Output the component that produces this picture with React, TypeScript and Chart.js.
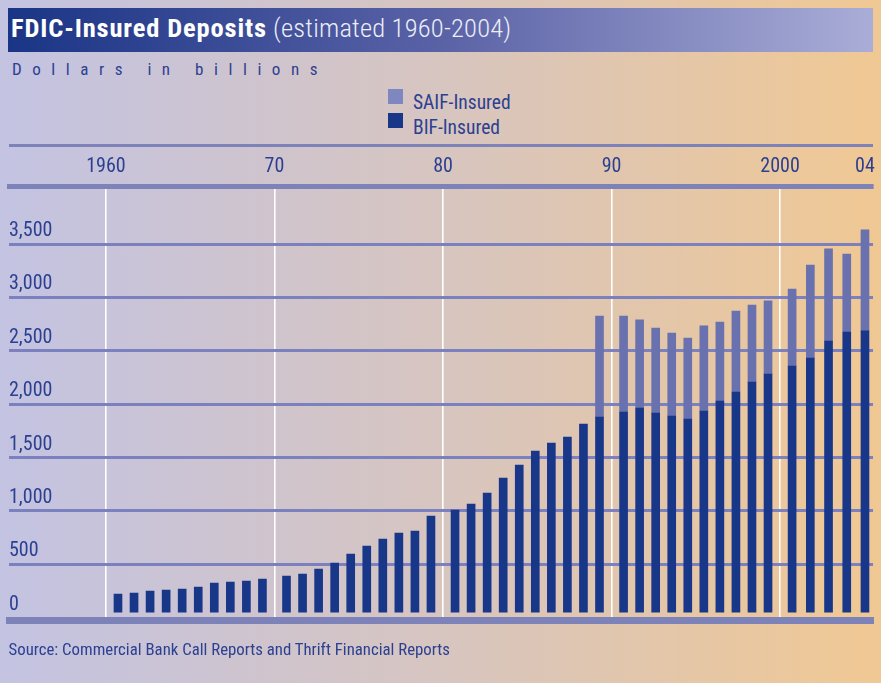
import React, { useEffect, useRef } from "react";
import { Chart, registerables } from "chart.js";

Chart.register(...registerables);

// ---------------- data ----------------
const years = [
  1960, 1961, 1962, 1963, 1964, 1965, 1966, 1967, 1968, 1969,
  1970, 1971, 1972, 1973, 1974, 1975, 1976, 1977, 1978, 1979,
  1980, 1981, 1982, 1983, 1984, 1985, 1986, 1987, 1988, 1989,
  1990, 1991, 1992, 1993, 1994, 1995, 1996, 1997, 1998, 1999,
  2000, 2001, 2002, 2003, 2004,
];

const bifInsured = [
  222, 231, 250, 259, 269, 288, 325, 334, 344, 362,
  390, 409, 456, 512, 597, 672, 737, 793, 812, 953,
  1009, 1065, 1168, 1309, 1430, 1561, 1636, 1692, 1814, 1880,
  1927, 1964, 1917, 1889, 1861, 1936, 2030, 2114, 2208, 2283,
  2358, 2433, 2592, 2676, 2686,
];

const saifInsured = [
  null, null, null, null, null, null, null, null, null, null,
  null, null, null, null, null, null, null, null, null, null,
  null, null, null, null, null, null, null, null, null, 946,
  899, 825, 797, 778, 759, 797, 740, 759, 721, 684,
  721, 871, 862, 731, 946,
];

const seriesNames = ["SAIF-Insured", "BIF-Insured"];
const xTickYears = [1960, 1970, 1980, 1990, 2000, 2004];
const xTickLabels = ["1960", "70", "80", "90", "2000", "04"];
const yTickValues = [0, 500, 1000, 1500, 2000, 2500, 3000, 3500];
const yTickLabels = ["0", "500", "1,000", "1,500", "2,000", "2,500", "3,000", "3,500"];

const titleMain = "FDIC-Insured Deposits";
const titleSub = "(estimated 1960-2004)";
const unitLabel = "Dollars in billions";
const sourceNote = "Source: Commercial Bank Call Reports and Thrift Financial Reports";

// ---------------- layout / style ----------------
const FONT = '"Roboto Condensed", "DejaVu Sans Condensed", sans-serif';
const TEXT = "#2c4091";
const RULE = "#7d82b9";
const GRID = "#7b81bf";
const BIF_COLOR = "#183789";
const SAIF_COLOR = "#6971ae";
const SAIF_KEY = "#7f87c0";

const DECADE_SPAN = 10.5; // slot units per decade (10 bars + gap)
const EDGE = 0.75; // margin between decade rule and first/last bar
const PARTIAL_STEP = 1.135; // spacing of bars in the incomplete last decade
const X_MIN = -6.04;
const X_MAX = 47.79;
const Y_MIN = -26;
const Y_MAX = 4038;
const BAR_BASE = 53;

function decadeIndex(year: number) {
  return Math.floor((year - years[0]) / 10);
}
function decadeStart(year: number) {
  return decadeIndex(year) * DECADE_SPAN;
}
function barPos(year: number) {
  const d = decadeIndex(year);
  const inDecade = years.filter((y) => decadeIndex(y) === d).length;
  const step = inDecade < 10 ? PARTIAL_STEP : 1;
  return d * DECADE_SPAN + EDGE + ((year - years[0]) % 10) * step;
}
function tickPos(year: number) {
  return year % 10 === 0 ? decadeStart(year) : barPos(year);
}

const topRulePlugin = {
  id: "topRule",
  afterDraw(chart: any) {
    const { ctx, chartArea, scales } = chart;
    const y = scales.x.top - 1.5;
    ctx.save();
    ctx.strokeStyle = RULE;
    ctx.lineWidth = 3;
    ctx.beginPath();
    ctx.moveTo(chartArea.left, y);
    ctx.lineTo(chartArea.right, y);
    ctx.stroke();
    ctx.restore();
  },
};

export default function App() {
  const canvasRef = useRef<HTMLCanvasElement>(null);

  useEffect(() => {
    const canvas = canvasRef.current;
    if (!canvas) return;
    const chart = new Chart(canvas, {
      type: "bar",
      data: {
        datasets: [
          {
            label: seriesNames[1],
            data: years.map((y, i) => ({ x: barPos(y), y: bifInsured[i] })),
            backgroundColor: BIF_COLOR,
            borderWidth: 0,
            barThickness: 8,
            base: BAR_BASE,
            xAxisID: "x",
            yAxisID: "y",
          } as any,
          {
            label: seriesNames[0],
            data: years.map((y, i) => ({ x: barPos(y), y: saifInsured[i] })),
            backgroundColor: SAIF_COLOR,
            borderWidth: 0,
            barThickness: 8,
            xAxisID: "x",
            yAxisID: "y",
          } as any,
        ],
      },
      options: {
        animation: false,
        responsive: false,
        maintainAspectRatio: false,
        layout: { padding: { left: 9, right: 8, top: 147, bottom: 62.5 } },
        plugins: {
          legend: { display: false },
          tooltip: { enabled: false },
          title: { display: false },
        },
        scales: {
          x: {
            type: "linear",
            position: "top",
            min: X_MIN,
            max: X_MAX,
            bounds: "data",
            offset: false,
            stacked: true,
            afterBuildTicks: (scale: any) => {
              scale.ticks = xTickYears.map((y) => ({ value: tickPos(y) }));
            },
            ticks: {
              autoSkip: false,
              maxRotation: 0,
              padding: 0,
              color: TEXT,
              font: { family: FONT, size: 20, lineHeight: 1.98 },
              callback: (_v: any, i: number) => xTickLabels[i],
            },
            grid: {
              offset: false,
              drawTicks: false,
              lineWidth: 1.6,
              color: (ctx: any) =>
                xTickYears[ctx.index] % 10 === 0 ? "#ffffff" : "rgba(0,0,0,0)",
            },
            border: { display: true, color: RULE, width: 5 },
          },
          xb: {
            type: "linear",
            axis: "x",
            position: "bottom",
            min: X_MIN,
            max: X_MAX,
            ticks: { display: false },
            grid: { display: true, drawOnChartArea: false, drawTicks: false },
            border: { display: true, color: RULE, width: 7 },
          },
          y: {
            type: "linear",
            position: "left",
            min: Y_MIN,
            max: Y_MAX,
            bounds: "data",
            stacked: true,
            afterBuildTicks: (scale: any) => {
              scale.ticks = yTickValues.map((v) => ({ value: v }));
            },
            ticks: {
              mirror: true,
              padding: 0,
              labelOffset: -13,
              color: TEXT,
              font: { family: FONT, size: 20 },
              callback: (_v: any, i: number) => yTickLabels[i],
            },
            grid: {
              drawTicks: false,
              lineWidth: 3,
              color: (ctx: any) =>
                ctx.tick && ctx.tick.value === 0 ? "rgba(0,0,0,0)" : GRID,
            },
            border: { display: false },
          },
        } as any,
      },
      plugins: [topRulePlugin],
    });
    return () => chart.destroy();
  }, []);

  return (
    <div
      style={{
        position: "absolute",
        left: 0,
        top: 0,
        width: 881,
        height: 683,
        overflow: "hidden",
        fontFamily: FONT,
        background: "linear-gradient(90deg, #c3c3e2 0%, #d7c5c0 50%, #f0c893 100%)",
      }}
    >
      <div
        style={{
          position: "absolute",
          left: 8,
          top: 8,
          width: 865,
          height: 44,
          background: "linear-gradient(90deg, #1a3586 0%, #5a62a6 50%, #aaadd7 100%)",
        }}
      >
        <div
          style={{
            position: "absolute",
            left: 3,
            top: 6.7,
            fontSize: 26.5,
            lineHeight: "26.5px",
            color: "#ffffff",
            whiteSpace: "nowrap",
          }}
        >
          <span style={{ fontWeight: 700, letterSpacing: 0.85 }}>{titleMain}</span>
          <span style={{ fontWeight: 300, color: "#eceef8", letterSpacing: 0.2 }}> {titleSub}</span>
        </div>
      </div>

      <div
        style={{
          position: "absolute",
          left: 12,
          top: 60.7,
          fontSize: 17,
          lineHeight: "17px",
          letterSpacing: 10.55,
          color: TEXT,
          whiteSpace: "nowrap",
        }}
      >
        {unitLabel}
      </div>

      <div style={{ position: "absolute", left: 388, top: 89, width: 15, height: 15, background: SAIF_KEY }} />
      <div
        style={{
          position: "absolute",
          left: 413,
          top: 92.9,
          fontSize: 19.5,
          lineHeight: "19.5px",
          color: TEXT,
          whiteSpace: "nowrap",
        }}
      >
        {seriesNames[0]}
      </div>
      <div style={{ position: "absolute", left: 388, top: 113, width: 15, height: 15, background: BIF_COLOR }} />
      <div
        style={{
          position: "absolute",
          left: 413,
          top: 117.6,
          fontSize: 19.5,
          lineHeight: "19.5px",
          color: TEXT,
          whiteSpace: "nowrap",
        }}
      >
        {seriesNames[1]}
      </div>

      <canvas
        ref={canvasRef}
        width={881}
        height={683}
        style={{ position: "absolute", left: 0, top: 0, width: 881, height: 683 }}
      />

      <div
        style={{
          position: "absolute",
          left: 8.5,
          top: 640.7,
          fontSize: 16.8,
          lineHeight: "17px",
          color: TEXT,
          whiteSpace: "nowrap",
        }}
      >
        {sourceNote}
      </div>
    </div>
  );
}
